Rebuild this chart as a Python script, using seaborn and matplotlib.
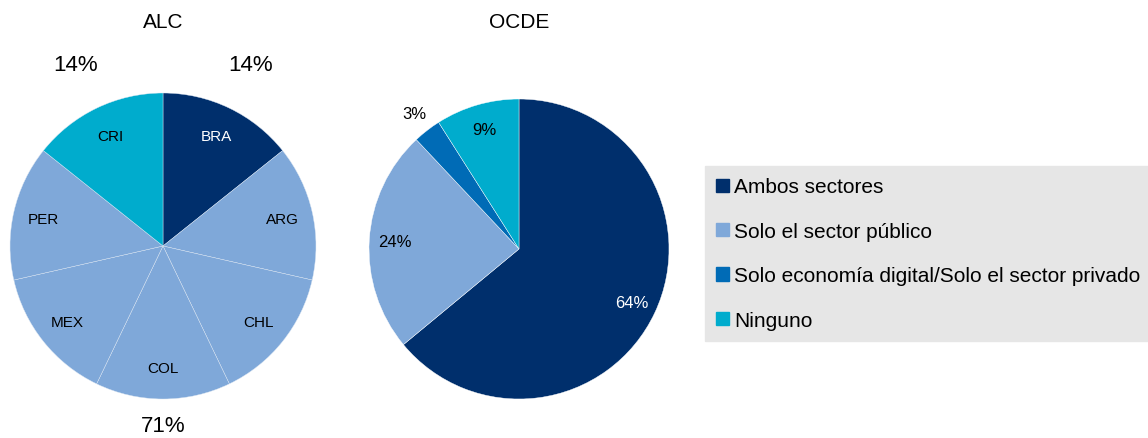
import numpy as np
import matplotlib
matplotlib.use('Agg')
import matplotlib.pyplot as plt
import seaborn as sns

# ALC: one slice per country, coloured by the group it belongs to
alc_countries = ['BRA', 'ARG', 'CHL', 'COL', 'MEX', 'PER', 'CRI']
alc_groups = ['Ambos sectores', 'Solo el sector público', 'Solo el sector público',
              'Solo el sector público', 'Solo el sector público', 'Solo el sector público',
              'Ninguno']
alc_values = [1, 1, 1, 1, 1, 1, 1]

# OCDE shares (%)
ocde_groups = ['Ambos sectores', 'Solo el sector público',
               'Solo economía digital/Solo el sector privado', 'Ninguno']
ocde_values = [64, 24, 3, 9]

legend_labels = ['Ambos sectores', 'Solo el sector público',
                 'Solo economía digital/Solo el sector privado', 'Ninguno']
palette = dict(zip(legend_labels, ['#002F6C', '#7FA8D9', '#006BB6', '#00ACCD']))

sns.set_theme(style='white')
plt.rcParams['font.family'] = ['Liberation Sans', 'DejaVu Sans']
plt.rcParams['text.color'] = 'black'

W, H = 1148, 439
fig = plt.figure(figsize=(W / 100, H / 100), dpi=100)


def pie_axes(cx, cy, r):
    return fig.add_axes([(cx - r) / W, 1 - (cy + r) / H, 2 * r / W, 2 * r / H])


def mid_xy(t1, t2, d):
    a = np.deg2rad((t1 + t2) / 2)
    return d * np.cos(a), d * np.sin(a)


# ---- ALC pie ----
ax1 = pie_axes(163, 247, 153)
wedges, _ = ax1.pie(alc_values, colors=[palette[g] for g in alc_groups],
                    startangle=90, counterclock=False,
                    wedgeprops=dict(edgecolor='#DDE7F3', linewidth=0.3))
for w, c, g in zip(wedges, alc_countries, alc_groups):
    x, y = mid_xy(w.theta1, w.theta2, 0.8)
    ax1.text(x, y, c, ha='center', va='center', fontsize=11,
             color='white' if g == 'Ambos sectores' else 'black')

total = sum(alc_values)
for g, dist in [('Ambos sectores', 1.32), ('Solo el sector público', 1.17), ('Ninguno', 1.32)]:
    idx = [i for i, gg in enumerate(alc_groups) if gg == g]
    t1 = min(wedges[i].theta1 for i in idx)
    t2 = max(wedges[i].theta2 for i in idx)
    share = sum(alc_values[i] for i in idx) / total * 100
    x, y = mid_xy(t1, t2, dist)
    ax1.text(x, y, f'{share:.0f}%', ha='center', va='center', fontsize=16)
ax1.text(0, 1.47, 'ALC', ha='center', va='center', fontsize=15)
ax1.set_xlim(-1, 1)
ax1.set_ylim(-1, 1)

# ---- OCDE pie ----
ax2 = pie_axes(519, 250, 150)
wedges2, _ = ax2.pie(ocde_values, colors=[palette[g] for g in ocde_groups],
                     startangle=90, counterclock=False,
                     wedgeprops=dict(edgecolor='white', linewidth=0.3))
for w, v, g in zip(wedges2, ocde_values, ocde_groups):
    d = 1.14 if v < 5 else 0.83
    x, y = mid_xy(w.theta1, w.theta2, d)
    ax2.text(x, y, f'{v}%', ha='center', va='center', fontsize=12,
             color='white' if g == 'Ambos sectores' else 'black')
ax2.text(0, 1.52, 'OCDE', ha='center', va='center', fontsize=15)
ax2.set_xlim(-1, 1)
ax2.set_ylim(-1, 1)

# ---- legend ----
handles = [plt.Rectangle((0, 0), 1, 1, color=palette[l]) for l in legend_labels]
fig.legend(handles, legend_labels, loc='upper left',
           bbox_to_anchor=(705 / W, 1 - 167 / H), bbox_transform=fig.transFigure,
           fontsize=15, frameon=True, facecolor='#E6E6E6', edgecolor='#E6E6E6',
           fancybox=False, framealpha=1, handlelength=0.6, handleheight=0.6,
           handletextpad=0.25, labelspacing=1.22, borderpad=0.55, borderaxespad=0)

fig.savefig('out.png', dpi=100)
